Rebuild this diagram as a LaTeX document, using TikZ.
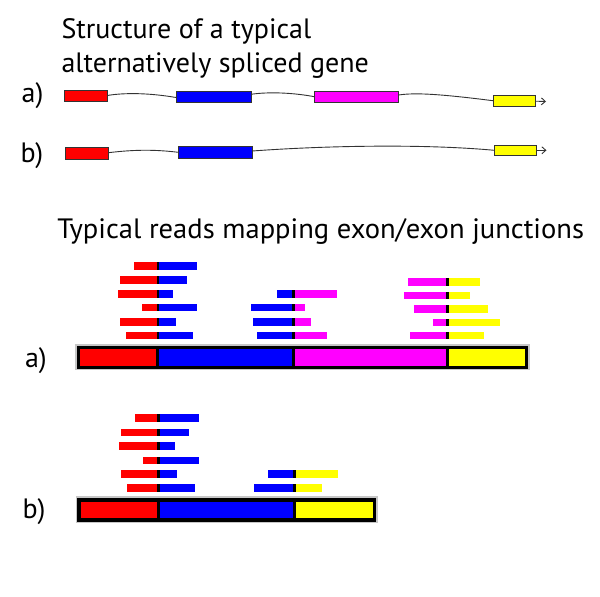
\documentclass[tikz,border=0pt]{standalone}
\usepackage{fontspec}
\setmainfont{PT Sans}
\usetikzlibrary{arrows.meta}
\definecolor{exred}{RGB}{255,0,0}
\definecolor{exblue}{RGB}{0,0,255}
\definecolor{exmag}{RGB}{255,0,255}
\definecolor{exyel}{RGB}{255,255,0}
\tikzset{
  exon/.style={draw=black!80, line width=0.9pt, inner sep=0pt, outer sep=0pt},
  intron/.style={draw=black!80, line width=0.9pt},
  lbl/.style={anchor=base west, inner sep=0pt, outer sep=0pt, font=\fontsize{28}{34}\selectfont},
}
\newcommand\rdpair[7]{%
  \fill[#6] ({#2},{#1}) rectangle ({#3},{#1+7.5});
  \fill[black] ({#3},{#1}) rectangle ({#4},{#1+7.5});
  \fill[#7] ({#4},{#1}) rectangle ({#5},{#1+7.5});}
\begin{document}
\begin{tikzpicture}[x=1pt,y=-1pt]
\useasboundingbox[fill=white] (0,0) rectangle (600,597);
% titles
\node[lbl] (t1) at (61.5,38.3) {Structure of a typical};
\node[lbl] (t2) at (61.5,72.7) {alternatively spliced gene};
\node[lbl, xscale=1.02] (t3) at (57.4,238.3) {Typical reads mapping exon/exon junctions};
\node[lbl] (la1) at (21.7,102.7) {a)};
\node[lbl] (lb1) at (20.5,162) {b)};
\node[lbl] (la2) at (25,367.3) {a)};
\node[lbl] (lb2) at (22.7,518.3) {b)};
% gene structure a)
\node[exon, fill=exred,  minimum width=43,   minimum height=11]   (ra) at (85.8,95.5) {};
\node[exon, fill=exblue, minimum width=74.3, minimum height=11.7] (ba) at (213.8,96.8) {};
\node[exon, fill=exmag,  minimum width=84.4, minimum height=11]   (ma) at (356.5,97.2) {};
\node[exon, fill=exyel,  minimum width=42.7, minimum height=11]   (ya) at (514.3,101.2) {};
\coordinate (yaend) at (546,101.5);
\draw[intron] (ra.east) .. controls (125,92.5) and (150,93) .. ([yshift=-0.8pt]ba.west);
\draw[intron] ([yshift=2.5pt]ba.east) .. controls (270,91.5) and (295,93) .. ([yshift=0.5pt]ma.west);
\draw[intron] ([yshift=2.2pt]ma.east) .. controls (415,92.5) and (440,94) .. ([yshift=0.5pt]ya.west);
\draw[intron, -{Straight Barb[length=4pt,width=7pt]}] (ya.east) -- (yaend);
% gene structure b)
\node[exon, fill=exred,  minimum width=43,   minimum height=11.3] (rb) at (86.8,153.3) {};
\node[exon, fill=exblue, minimum width=74,   minimum height=11.3] (bb) at (215.3,152.3) {};
\node[exon, fill=exyel,  minimum width=42,   minimum height=10.7] (yb) at (515.3,150.3) {};
\coordinate (ybend) at (546.5,150.3);
\draw[intron] ([yshift=0.6pt]rb.east) .. controls (135,149.5) and (155,149.5) .. (bb.west);
\draw[intron] ([yshift=1.3pt]bb.east) .. controls (320,146) and (420,143.5) .. (yb.west);
\draw[intron, -{Straight Barb[length=4pt,width=7pt]}] (yb.east) -- (ybend);
% reads a) red/blue
\rdpair{262}{134}{156.5}{159.2}{197.3}{exred}{exblue}
\rdpair{276}{120}{156.5}{159.2}{187.3}{exred}{exblue}
\rdpair{290}{117.7}{156.5}{159.2}{173.3}{exred}{exblue}
\rdpair{303.5}{141.7}{156.5}{159.2}{197.3}{exred}{exblue}
\rdpair{318}{120}{156.5}{159.2}{175.7}{exred}{exblue}
\rdpair{331.5}{126}{156.5}{159.2}{193.3}{exred}{exblue}
% reads a) blue/magenta
\rdpair{290}{277.3}{292.3}{295}{336.7}{exblue}{exmag}
\rdpair{303.5}{251}{292.3}{295}{305}{exblue}{exmag}
\rdpair{318}{253.3}{292.3}{295}{311}{exblue}{exmag}
\rdpair{331.5}{257.3}{292.3}{295}{326.7}{exblue}{exmag}
% reads a) magenta/yellow
\rdpair{278}{408.3}{446}{448.7}{480}{exmag}{exyel}
\rdpair{291.7}{404.3}{446}{448.7}{470}{exmag}{exyel}
\rdpair{305.3}{414.3}{446}{448.7}{488}{exmag}{exyel}
\rdpair{318.8}{432.7}{446}{448.7}{500}{exmag}{exyel}
\rdpair{331.5}{410.3}{446}{448.7}{484}{exmag}{exyel}
% bar a)
\fill[black!22] (75,344.3) rectangle (529.5,370.3);
\fill[black] (76.5,345.7) rectangle (528,368.8);
\fill[exred]  (80,349.3) rectangle (156.3,365.5);
\fill[exblue] (159.3,349.3) rectangle (292,365.5);
\fill[exmag]  (295,349.3) rectangle (446.3,365.5);
\fill[exyel]  (448.5,349.3) rectangle (524.5,365.5);
\fill[black] (472,346.5) rectangle (480,348.6);
% reads b) red/blue
\rdpair{414}{135}{157.3}{160}{199}{exred}{exblue}
\rdpair{428.7}{121}{157.3}{160}{189}{exred}{exblue}
\rdpair{442.3}{119}{157.3}{160}{175}{exred}{exblue}
\rdpair{456.7}{143}{157.3}{160}{199}{exred}{exblue}
\rdpair{470.3}{121}{157.3}{160}{177}{exred}{exblue}
\rdpair{484.3}{127}{157.3}{160}{195}{exred}{exblue}
% reads b) blue/yellow
\rdpair{470.3}{268.3}{293}{295.7}{338.3}{exblue}{exyel}
\rdpair{484.3}{254.3}{293}{295.7}{322.3}{exblue}{exyel}
% bar b)
\fill[black!22] (75.8,496.3) rectangle (377.5,523.4);
\fill[black] (77.3,497.7) rectangle (376,522);
\fill[exred]  (81.3,501.5) rectangle (157.3,518);
\fill[exblue] (160,501.5) rectangle (293.3,518);
\fill[exyel]  (296,501.5) rectangle (372.7,518);
\end{tikzpicture}
\end{document}
